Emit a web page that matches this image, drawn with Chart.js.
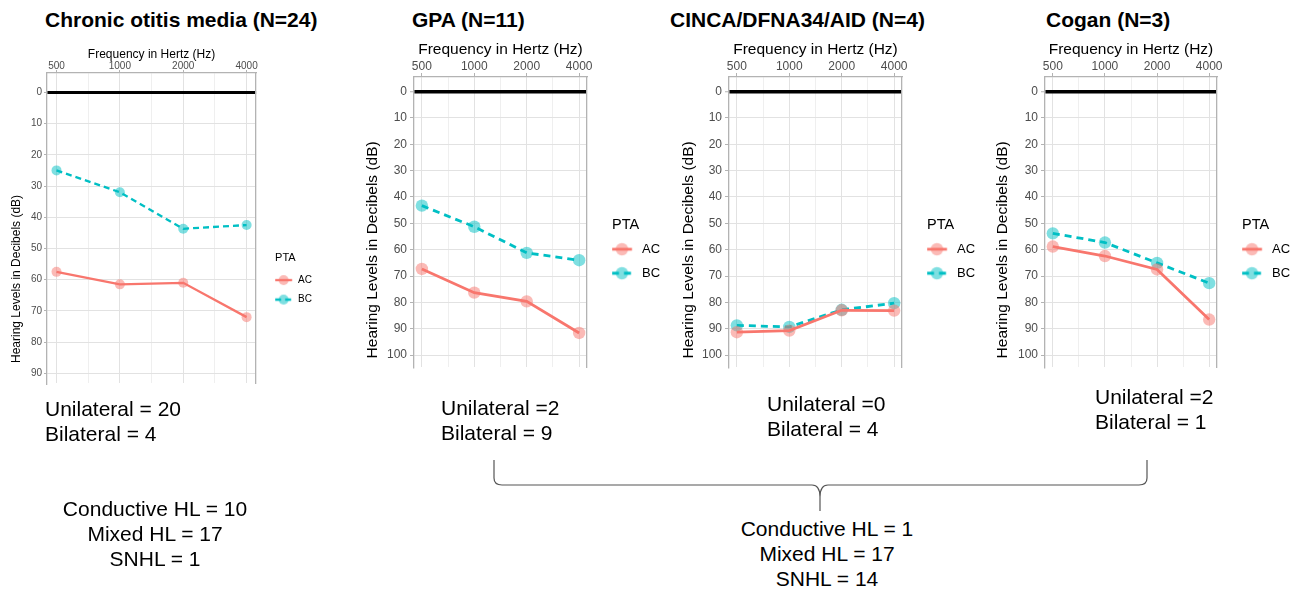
<!DOCTYPE html>
<html>
<head>
<meta charset="utf-8">
<script src="https://cdn.jsdelivr.net/npm/chart.js@4.4.0/dist/chart.umd.min.js"></script>
<style>
  html, body { margin: 0; padding: 0; background: #fff; overflow: hidden; }
  #page { position: relative; width: 1301px; height: 591px; font-family: "Liberation Sans", Arial, sans-serif; }
  canvas { position: absolute; }
  .title { position: absolute; top: 8px; font-weight: bold; font-size: 21px; line-height: 24px; color: #000; white-space: nowrap; }
  .note { position: absolute; font-size: 21px; line-height: 25px; color: #000; white-space: nowrap; z-index: 2; }
  .center { text-align: center; width: 300px; }
  svg { position: absolute; left: 0; top: 0; z-index: 2; }
</style>
</head>
<body>
<div id="page">
  <div class="title" style="left:45px">Chronic otitis media (N=24)</div>
  <div class="title" style="left:412px">GPA (N=11)</div>
  <div class="title" style="left:670px">CINCA/DFNA34/AID (N=4)</div>
  <div class="title" style="left:1046px">Cogan (N=3)</div>

  <canvas id="com"></canvas>
  <canvas id="gpa"></canvas>
  <canvas id="cinca"></canvas>
  <canvas id="cogan"></canvas>

  <div class="note" style="left:45px; top:396px">Unilateral = 20<br>Bilateral = 4</div>
  <div class="note" style="left:441px; top:395px">Unilateral =2<br>Bilateral = 9</div>
  <div class="note" style="left:767px; top:391px">Unilateral =0<br>Bilateral = 4</div>
  <div class="note" style="left:1095px; top:384px">Unilateral =2<br>Bilateral = 1</div>
  <div class="note center" style="left:5px; top:496px">Conductive HL = 10<br>Mixed HL = 17<br>SNHL = 1</div>
  <div class="note center" style="left:677px; top:516px">Conductive HL = 1<br>Mixed HL = 17<br>SNHL = 14</div>

  <svg width="1301" height="591">
    <path d="M494,460 L494,478 Q494,485 502,485 L812,485 Q820,485 820,497 Q820,485 828,485 L1139,485 Q1147,485 1147,478 L1147,460 M820,497 L820,511"
          fill="none" stroke="#555" stroke-width="1.2"/>
  </svg>
</div>

<script>
// frequencies (Hz) and mean thresholds (dB HL)
const freqs = [500, 1000, 2000, 4000];
const dbTicks = [0, 10, 20, 30, 40, 50, 60, 70, 80, 90, 100];
const seriesNames = ['AC', 'BC'];

const comAC = [57.5, 61.5, 61, 72];
const comBC = [25, 32, 43.7, 42.5];

const gpaAC = [67.3, 76.3, 79.6, 91.6];
const gpaBC = [43.3, 51.3, 61.2, 64];

const cincaAC = [91.3, 90.7, 83, 83.1];
const cincaBC = [88.7, 89.3, 82.8, 80.3];

const coganAC = [58.8, 62.4, 67.5, 86.5];
const coganBC = [53.8, 57.3, 65, 72.7];

const AC_COLOR = '#F8766D';
const BC_COLOR = '#00BFC4';

Chart.defaults.font.family = '"Liberation Sans", Arial, sans-serif';

function fade(hex, a) {
  const n = parseInt(hex.slice(1), 16);
  return `rgba(${n >> 16}, ${(n >> 8) & 255}, ${n & 255}, ${a})`;
}

// small line+circle key like the ggplot legend
function keyImage(color, dash, k, a) {
  const c = document.createElement('canvas');
  c.width = k.wi; c.height = 16;
  const g = c.getContext('2d');
  g.strokeStyle = color;
  g.lineWidth = k.lineW;
  g.setLineDash(dash);
  g.beginPath(); g.moveTo(a, 8); g.lineTo(a + k.kw, 8); g.stroke();
  g.setLineDash([]);
  g.fillStyle = fade(color, 0.5);
  g.beginPath(); g.arc(a + k.kw / 2, 8, k.radius, 0, Math.PI * 2); g.fill();
  return c;
}

function audiogram(id, ac, bc, k) {
  const canvas = document.getElementById(id);
  const yw = k.px - k.cl, xh = k.py - k.ct;
  const w = (k.px + k.pw - k.cl) + k.rw + k.lw;
  const h = (k.py + k.ph - k.ct) + k.bh;
  canvas.width = w; canvas.height = h;
  canvas.style.left = k.cl + 'px'; canvas.style.top = k.ct + 'px';

  const mids = [Math.sqrt(500 * 1000), Math.sqrt(1000 * 2000), Math.sqrt(2000 * 4000)];
  const gridVals = freqs.concat(mids).sort((p, q) => p - q);
  const isMajor = v => freqs.includes(v);
  const yVals = dbTicks.filter(v => v <= k.ymax);

  // legend geometry: key starts where the title "PTA" starts
  const P = k.legPad;
  const W = k.kw + k.gap - P - k.fsLeg / 2;
  const a = k.wi / 2 - P - W / 2;
  const keys = [keyImage(AC_COLOR, [], k, a), keyImage(BC_COLOR, k.dash, k, a)];

  const pts = vals => freqs.map((f, i) => ({x: f, y: vals[i]}));

  return new Chart(canvas, {
    type: 'line',
    data: {
      datasets: [
        {
          label: seriesNames[0], data: pts(ac),
          borderColor: AC_COLOR, borderWidth: k.lineW,
          pointRadius: k.radius, pointBorderWidth: 0,
          pointBackgroundColor: fade(AC_COLOR, 0.5), pointBorderColor: 'rgba(0,0,0,0)',
          backgroundColor: fade(AC_COLOR, 0.5), fill: false, tension: 0
        },
        {
          label: seriesNames[1], data: pts(bc),
          borderColor: BC_COLOR, borderWidth: k.lineW, borderDash: k.dash,
          pointRadius: k.radius, pointBorderWidth: 0,
          pointBackgroundColor: fade(BC_COLOR, 0.5), pointBorderColor: 'rgba(0,0,0,0)',
          backgroundColor: fade(BC_COLOR, 0.5), fill: false, tension: 0
        }
      ]
    },
    options: {
      responsive: false,
      animation: false,
      events: [],
      layout: { padding: 0 },
      scales: {
        x: {
          type: 'logarithmic',
          position: 'top',
          min: 500 * Math.pow(2, -0.15),
          max: 4000 * Math.pow(2, 0.15),
          afterBuildTicks: s => { s.ticks = gridVals.map(v => ({value: v})); },
          afterFit: s => { s.height = xh; },
          ticks: {
            autoSkip: false, maxRotation: 0, color: '#4d4d4d',
            font: { size: k.fsTick }, padding: k.xTickPad,
            callback: v => isMajor(v) ? String(v) : ''
          },
          grid: {
            color: c => (c.tick && isMajor(c.tick.value)) ? '#e2e2e2' : '#efefef',
            lineWidth: 1,
            tickLength: k.tickLen,
            tickColor: c => (c.tick && isMajor(c.tick.value)) ? '#b3b3b3' : 'rgba(0,0,0,0)',
            tickWidth: 1
          },
          border: { display: true, color: '#b3b3b3', width: 1.3 },
          title: {
            display: true, text: 'Frequency in Hertz (Hz)', color: '#000',
            font: { size: k.fsTitle }, padding: { top: k.xTitlePad, bottom: 0 }
          }
        },
        x2: {
          type: 'linear', position: 'bottom', display: true,
          afterFit: s => { s.height = k.bh; },
          grid: { display: false }, ticks: { display: false }, border: { display: false }
        },
        y: {
          reverse: true,
          min: k.ymin, max: k.ymax,
          weight: 0,
          afterBuildTicks: s => { s.ticks = yVals.map(v => ({value: v})); },
          afterFit: s => { s.width = yw - k.yTitleW; },
          ticks: { color: '#4d4d4d', font: { size: k.fsTick }, padding: k.yTickPad },
          grid: {
            color: c => (c.tick && c.tick.value === 0) ? '#000' : '#e2e2e2',
            lineWidth: c => (c.tick && c.tick.value === 0) ? k.zeroW : 1,
            tickLength: k.tickLen, tickColor: '#b3b3b3', tickWidth: 1
          },
          border: { display: true, color: '#b3b3b3', width: 1.3 }
        },
        // outer left box that only carries the y-axis title
        yTitle: {
          type: 'linear', position: 'left', display: true, weight: 1,
          afterFit: s => { s.width = k.yTitleW; },
          grid: { display: false }, ticks: { display: false }, border: { display: false },
          title: {
            display: true, text: k.yLead + 'Hearing Levels in Decibels (dB)', color: '#000',
            font: { size: k.fsTitle }, padding: { top: k.yTitlePad, bottom: 0 }, align: 'start'
          }
        },
        y2: {
          type: 'linear', position: 'right', display: true,
          afterFit: s => { s.width = k.rw; },
          grid: { display: false }, ticks: { display: false },
          border: { display: true, color: '#b3b3b3', width: 1.3 }
        }
      },
      plugins: {
        tooltip: { enabled: false },
        legend: {
          position: 'right', align: 'center', fullSize: true, maxWidth: k.lw,
          title: {
            display: true, text: 'PTA', position: 'start', color: '#000',
            font: { size: k.fsLegTitle, lineHeight: k.legTitleLH }, padding: k.legTitlePad
          },
          labels: {
            usePointStyle: true, pointStyleWidth: W, padding: P,
            color: '#000', font: { size: k.fsLeg },
            generateLabels: chart => Chart.defaults.plugins.legend.labels.generateLabels(chart)
              .map((it, i) => Object.assign(it, { pointStyle: keys[i] }))
          }
        }
      }
    }
  });
}

const small = {
  ymin: -6.2, ymax: 93.1, fsTick: 10, fsTitle: 12, fsLegTitle: 11, fsLeg: 10,
  lineW: 2.3, dash: [6, 4], radius: 5, zeroW: 3, tickLen: 3,
  xTickPad: -2, yTickPad: 2, xTitlePad: 7.4, yTitlePad: 1.5, yTitleW: 15, yLead: '      ',
  legPad: 9.5, legTitlePad: 3.7, legTitleLH: 0.84, kw: 17, gap: 6, wi: 50
};
const big = {
  ymin: -5.5, ymax: 104.5, fsTick: 12, fsTitle: 15.5, fsLegTitle: 14.5, fsLeg: 13,
  lineW: 2.8, dash: [7, 5], radius: 6.2, zeroW: 3.5, tickLen: 4,
  xTickPad: -1, yTickPad: 3, xTitlePad: 4.7, yTitlePad: 3.4, yTitleW: 20, yLead: '  ',
  legPad: 11, legTitlePad: 2, legTitleLH: 0.855, kw: 20, gap: 10, wi: 60
};

audiogram('com', comAC, comBC, Object.assign({}, small,
  { cl: 8, ct: 40, px: 47, py: 73, pw: 206, ph: 310, rw: 19, lw: 50, bh: 140 }));
audiogram('gpa', gpaAC, gpaBC, Object.assign({}, big,
  { cl: 360, ct: 36, px: 414, py: 77, pw: 173, ph: 290, rw: 25, lw: 58, bh: 103 }));
audiogram('cinca', cincaAC, cincaBC, Object.assign({}, big,
  { cl: 676, ct: 36, px: 729, py: 77, pw: 173, ph: 290, rw: 25, lw: 58, bh: 103 }));
audiogram('cogan', coganAC, coganBC, Object.assign({}, big,
  { cl: 990, ct: 36, px: 1045, py: 77, pw: 172, ph: 290, rw: 25, lw: 58, bh: 103 }));
</script>
</body>
</html>
